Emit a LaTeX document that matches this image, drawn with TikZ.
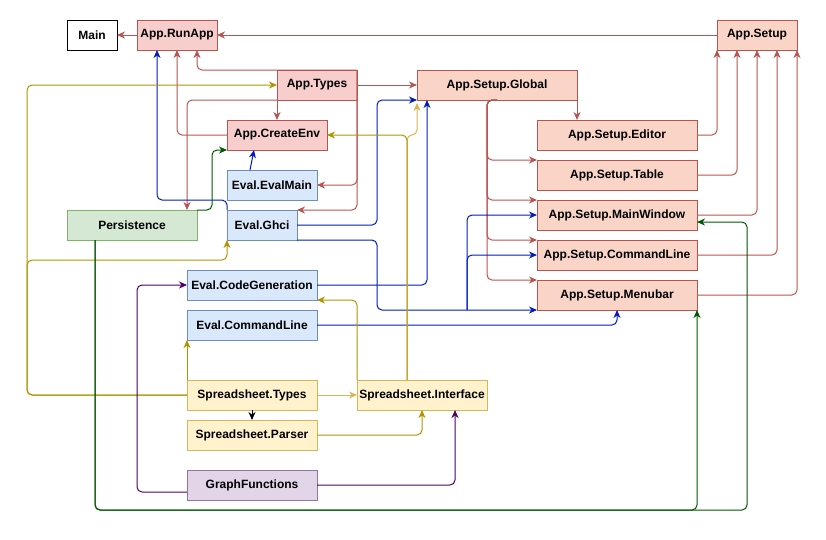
\documentclass[tikz,border=0pt]{standalone}
\usepackage{fontspec}
\setmainfont{Liberation Sans}
\usetikzlibrary{positioning,arrows.meta,calc}

\definecolor{redfill}{HTML}{F8CECC}
\definecolor{redline}{HTML}{B85450}
\definecolor{setupfill}{HTML}{F9D4C7}
\definecolor{bluefill}{HTML}{DAE8FC}
\definecolor{blueline}{HTML}{6C8EBF}
\definecolor{greenfill}{HTML}{D5E8D4}
\definecolor{greenline}{HTML}{82B366}
\definecolor{yellowfill}{HTML}{FFF2CC}
\definecolor{yellowline}{HTML}{D6B656}
\definecolor{purplefill}{HTML}{E1D5E7}
\definecolor{purpleline}{HTML}{9673A6}
\definecolor{bluewire}{HTML}{001DBC}
\definecolor{yellowwire}{HTML}{B09500}
\definecolor{greenwire}{HTML}{005700}
\definecolor{purplewire}{HTML}{4D0066}

\tikzstyle{module}=[rectangle,draw,line width=1pt,minimum height=30pt,inner sep=0pt,outer sep=0pt,font=\fontsize{12}{14}\selectfont\bfseries]
\tikzstyle{plainbox}=[module,draw=black,fill=white]
\tikzstyle{redbox}=[module,draw=redline,fill=redfill]
\tikzstyle{setupbox}=[module,draw=redline,fill=setupfill]
\tikzstyle{bluebox}=[module,draw=blueline,fill=bluefill]
\tikzstyle{greenbox}=[module,draw=greenline,fill=greenfill]
\tikzstyle{yellowbox}=[module,draw=yellowline,fill=yellowfill]
\tikzstyle{purplebox}=[module,draw=purpleline,fill=purplefill]
\tikzstyle{wire}=[line width=1pt,rounded corners=5pt,-{Stealth[length=8pt,width=7pt,inset=2.5pt]}]
\tikzstyle{redwire}=[wire,draw=redline,color=redline]
\tikzstyle{bluew}=[wire,draw=bluewire,color=bluewire]
\tikzstyle{yelloww}=[wire,draw=yellowwire,color=yellowwire]
\tikzstyle{paleyelloww}=[wire,draw=yellowline,color=yellowline]
\tikzstyle{greenw}=[wire,draw=greenwire,color=greenwire]
\tikzstyle{purplew}=[wire,draw=purplewire,color=purplewire]

\begin{document}
\begin{tikzpicture}[x=1pt,y=-1pt]
  \useasboundingbox (0,0) rectangle (826,539);

  \node[plainbox,minimum width=50pt] (Main) at (92,35) {Main};

  \foreach \pos/\name/\txt/\w in {{(177,35)/RunApp/App.RunApp/80}, {(317,85)/Types/App.Types/80},
                                  {(277,135)/CreateEnv/App.CreateEnv/100}}
    \node[redbox,minimum width=\w pt] (\name) at \pos {\txt};

  \foreach \pos/\name/\txt/\w in {{(757,35)/Setup/App.Setup/80}, {(497,85)/Global/App.Setup.Global/160},
                                  {(617,135)/Editor/App.Setup.Editor/160}, {(617,175)/Table/App.Setup.Table/160},
                                  {(617,215)/MainWindow/App.Setup.MainWindow/160},
                                  {(617,255)/CommandLine/App.Setup.CommandLine/160},
                                  {(617,295)/Menubar/App.Setup.Menubar/160}}
    \node[setupbox,minimum width=\w pt] (\name) at \pos {\txt};

  \foreach \pos/\name/\txt/\w in {{(272,185)/EvalMain/Eval.EvalMain/90}, {(262,225)/Ghci/Eval.Ghci/70},
                                  {(252,285)/CodeGen/Eval.CodeGeneration/130},
                                  {(252,325)/EvalCL/Eval.CommandLine/130}}
    \node[bluebox,minimum width=\w pt] (\name) at \pos {\txt};

  \node[greenbox,minimum width=130pt] (Persistence) at (132,225) {Persistence};

  \foreach \pos/\name/\txt in {{(252,395)/SpTypes/Spreadsheet.Types}, {(252,435)/Parser/Spreadsheet.Parser},
                               {(422,395)/Interface/Spreadsheet.Interface}}
    \node[yellowbox,minimum width=130pt] (\name) at \pos {\txt};

  \node[purplebox,minimum width=130pt] (Graph) at (252,485) {GraphFunctions};

  % App edges
  \draw[redwire] (RunApp.west) -- (Main.east);
  \draw[redwire] (Setup.west) -- (RunApp.east);
  \draw[redwire] (Types.north east) -| ($(RunApp.south east)+(-20,0)$);
  \draw[redwire] (Types.north east) |- (EvalMain.east);
  \draw[redwire] (Types.north east) |- (Ghci.north east);
  \draw[redwire] (Types.south west) -- (CreateEnv.north);
  \draw[redwire] (Types.south west) -| ($(Persistence.north east)+(-10,0)$);
  \draw[redwire] (Types.east) -- (Global.west);
  \draw[redwire] (CreateEnv.west) -| (RunApp.south);
  \draw[redwire] (Global.south east) -- (Global.south east |- Editor.north);
  \foreach \dest in {Table, MainWindow, CommandLine, Menubar}
    \draw[redwire] (Global.south) -- ++(-10,0) |- (\dest.north west);

  % App.Setup edges
  \draw[redwire] (Editor.east) -| (Setup.south west);
  \draw[redwire] (Table.east) -| ($(Setup.south west)+(20,0)$);
  \draw[redwire] (MainWindow.east) -| (Setup.south);
  \draw[redwire] (CommandLine.east) -| ($(Setup.south east)+(-20,0)$);
  \draw[redwire] (Menubar.east) -| (Setup.south east);

  % Eval edges
  \draw[bluew] ($(EvalMain.north west)+(23,0)$) -- ($(CreateEnv.south west)+(27,0)$);
  \draw[bluew] (Ghci.north west) -- ++(0,-10) -| ($(RunApp.south west)+(20,0)$);
  \draw[bluew] (Ghci.east) -- ++(80,0) |- (Global.south west);
  \draw[bluew] (CodeGen.east) -| ($(Global.south west)+(10,0)$);
  \draw[bluew] (Ghci.south east) -- ++(80,0) |- (Menubar.south west);
  \coordinate (ghcijoin) at ($(Menubar.south west)+(-70,0)$);
  \draw[bluew] (ghcijoin) |- (MainWindow.west);
  \draw[bluew] (ghcijoin) |- (CommandLine.west);
  \draw[bluew] (EvalCL.east) -| (Menubar.south);

  % Spreadsheet edges
  \draw[yelloww] (SpTypes.west) -- ++(-160,0) |- (Types.west);
  \draw[yelloww] (SpTypes.west) -- ++(-160,0) |- ($(Ghci.south west)+(0,20)$) -- (Ghci.south west);
  \draw[yelloww] (SpTypes.north west) -- (EvalCL.south west);
  \draw[paleyelloww] (SpTypes.east) -- (Interface.west);
  \draw[wire,black] (SpTypes.south) -- (Parser.north);
  \draw[yelloww] (Parser.east) -| (Interface.south);
  \draw[yelloww] (Interface.north west) |- (CodeGen.south east);
  \draw[paleyelloww] ($(Interface.north west)+(50,0)$) -- ++(0,-245) -- ++(10,0) -- ($(Global.south west)+(0,3)$);
  \draw[yelloww] ($(Interface.north west)+(50,0)$) |- (CreateEnv.east);

  % Persistence edges
  \draw[greenw] (Persistence.north east) -- ++(15,0) |- (CreateEnv.south west);
  \draw[greenw] ($(Persistence.south west)+(28,0)$) -- ++(0,270) -| (Menubar.south east);
  \draw[greenw] ($(Persistence.south west)+(28,0)$) -- ++(0,270) -- ++(652,0) |- ($(MainWindow.east)+(0,7)$);

  % GraphFunctions edges
  \draw[purplew] ($(Graph.west)+(0,7)$) -- ++(-50,0) |- (CodeGen.west);
  \draw[purplew] (Graph.east) -| ($(Interface.south east)+(-32,0)$);
\end{tikzpicture}
\end{document}
